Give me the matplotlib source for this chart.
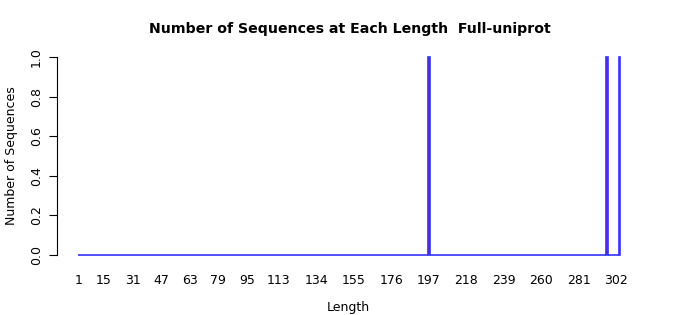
import numpy as np
import matplotlib
matplotlib.use('AGG')
import matplotlib.pyplot as plt

# observed sequence lengths and the length categories on the axis
seq_lengths = [197, 297, 304]
lengths = np.arange(1, 305)
counts = np.array([seq_lengths.count(l) for l in lengths])
tick_labels = [1, 15, 31, 47, 63, 79, 95, 113, 134, 155, 176, 197, 218, 239, 260, 281, 302]

fig = plt.figure(figsize=(7, 3.15), dpi=100)
ax = fig.add_axes([57/700, 1 - 255/315, (640-57)/700, (255-57)/315])

ax.bar(lengths, counts, width=1.0, color='red', edgecolor='#3333ff', linewidth=1.2, clip_on=False)

ax.set_xlim(1 - 22/1.784, 1 + (640-79)/1.784)
ax.set_ylim(0, 1)
for s in ['top', 'right', 'bottom']:
    ax.spines[s].set_visible(False)
ax.spines['left'].set_bounds(0, 1)
ax.spines['left'].set_linewidth(0.8)

ax.set_xticks(tick_labels)
ax.set_xticklabels([str(t) for t in tick_labels], fontsize=9)
ax.tick_params(axis='x', length=0, pad=14)
ax.set_yticks([0, 0.2, 0.4, 0.6, 0.8, 1.0])
ax.set_yticklabels(['0.0', '0.2', '0.4', '0.6', '0.8', '1.0'], rotation=90, va='center', fontsize=9)
ax.tick_params(axis='y', length=6, width=0.8, pad=4)

ax.set_xlabel('Length', fontsize=9, labelpad=10)
ax.set_ylabel('Number of Sequences', fontsize=9, labelpad=9)
fig.text(350/700, 1 - 29/315, 'Number of Sequences at Each Length  Full-uniprot',
         ha='center', va='center', fontsize=10.2, fontweight='bold')

plt.savefig('out.png', dpi=100)
